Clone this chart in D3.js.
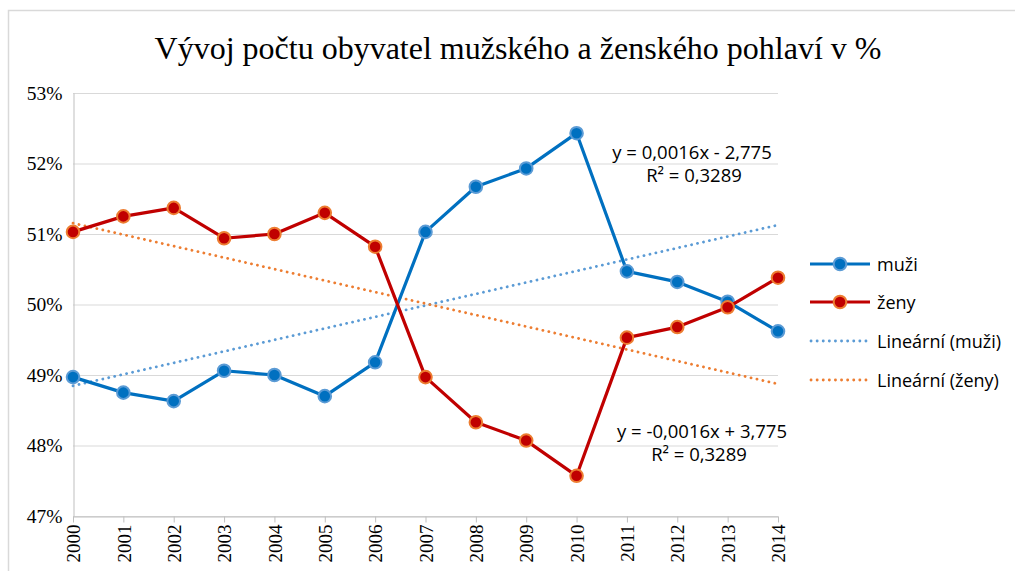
<!DOCTYPE html>
<html><head><meta charset="utf-8">
<script src="https://cdn.jsdelivr.net/npm/d3@7"></script>
<style>body{margin:0;background:#fff}svg{display:block}</style>
</head><body>
<svg id="c" width="1015" height="571"></svg>
<script>
const years = [2000,2001,2002,2003,2004,2005,2006,2007,2008,2009,2010,2011,2012,2013,2014];
const muzi = [48.97,48.75,48.63,49.06,49.00,48.70,49.18,51.03,51.67,51.93,52.43,50.47,50.32,50.04,49.62];
const zeny = [51.03,51.25,51.37,50.94,51.00,51.30,50.82,48.97,48.33,48.07,47.57,49.53,49.68,49.96,50.38];
const yTicks = [47,48,49,50,51,52,53];
const title = "Vývoj počtu obyvatel mužského a ženského pohlaví v %";
const legendLabels = ["muži","ženy","Lineární (muži)","Lineární (ženy)"];
const eqMuzi = ["y = 0,0016x - 2,775","R² = 0,3289"];
const eqZeny = ["y = -0,0016x + 3,775","R² = 0,3289"];

const svg = d3.select("#c");
svg.append("rect").attr("x",8.5).attr("y",10.5).attr("width",1020).attr("height",580)
  .attr("fill","#fff").attr("stroke","#d9d9d9").attr("stroke-width",1.5);

const x = d3.scaleLinear().domain([2000,2014]).range([73,778]);
const y = d3.scaleLinear().domain([47,53]).range([516,93]);

svg.append("text").attr("x",518).attr("y",59).attr("text-anchor","middle")
  .attr("font-family","Liberation Serif").attr("font-size",32).attr("fill","#000").text(title);

// grid
svg.append("g").selectAll("line").data(yTicks).join("line")
  .attr("x1",73).attr("x2",778).attr("y1",d=>y(d)+0.5).attr("y2",d=>y(d)+0.5)
  .attr("stroke","#d9d9d9").attr("stroke-width",1.2);

// y axis
const ya = svg.append("g").attr("transform","translate(73.5,0)")
  .call(d3.axisLeft(y).tickValues(yTicks).tickSize(0).tickPadding(11).tickFormat(d=>d+"%"));
ya.select(".domain").attr("stroke","#bfbfbf");
ya.selectAll("text").attr("font-family","Liberation Serif").attr("font-size",19.5).attr("fill","#000");

// x axis
const xa = svg.append("g").attr("transform","translate(0,516.5)")
  .call(d3.axisBottom(x).tickValues(years).tickSize(6).tickSizeOuter(0).tickFormat(d=>String(d)));
xa.select(".domain").attr("stroke","#bfbfbf");
xa.selectAll(".tick line").attr("stroke","#bfbfbf");
xa.selectAll("text").attr("font-family","Liberation Serif").attr("font-size",19).attr("fill","#000")
  .attr("transform","rotate(-90)").attr("text-anchor","end").attr("dy","0.35em").attr("x",-8).attr("y",0);

// trends
function fit(vals){
  const mx=d3.mean(years), my=d3.mean(vals);
  let sxy=0,sxx=0; years.forEach((t,i)=>{sxy+=(t-mx)*(vals[i]-my);sxx+=(t-mx)*(t-mx);});
  const b=sxy/sxx, a=my-b*mx; return t=>a+b*t;
}
const fm=fit(muzi), fz=fit(zeny);
const ends=[2000,2014];
const line = d3.line().x(d=>x(d[0])).y(d=>y(d[1]));
svg.append("path").attr("d",line(ends.map(t=>[t,fm(t)]))).attr("fill","none")
  .attr("stroke","#5B9BD5").attr("stroke-width",2.8).attr("stroke-dasharray","0.1,6").attr("stroke-linecap","round");
svg.append("path").attr("d",line(ends.map(t=>[t,fz(t)]))).attr("fill","none")
  .attr("stroke","#ED7D31").attr("stroke-width",2.8).attr("stroke-dasharray","0.1,6").attr("stroke-linecap","round");

function series(vals,lc,mf,ms){
  const pts=years.map((t,i)=>[t,vals[i]]);
  svg.append("path").attr("d",line(pts)).attr("fill","none").attr("stroke",lc).attr("stroke-width",3.2).attr("stroke-linejoin","round");
  svg.append("g").selectAll("circle").data(pts).join("circle")
    .attr("cx",d=>x(d[0])).attr("cy",d=>y(d[1])).attr("r",6.3).attr("fill",mf).attr("stroke",ms).attr("stroke-width",2);
}
series(muzi,"#0070C0","#0070C0","#5B9BD5");
series(zeny,"#C00000","#C00000","#ED7D31");

// equations
function eq(lines,cx1,cx2,y0){
  const g=svg.append("g").attr("font-family","Open Sans").attr("font-size",18.5).attr("fill","#000").attr("text-anchor","middle");
  g.append("text").attr("x",cx1).attr("y",y0).text(lines[0]);
  g.append("text").attr("x",cx2).attr("y",y0+23).text(lines[1]);
}
eq(eqMuzi,692,694,159);
eq(eqZeny,702,699,438);

// legend
const lg=svg.append("g");
const ly=[264,302,341,380];
legendLabels.forEach((lab,i)=>{
  const yy=ly[i];
  if(i<2){
    const c=i===0?"#0070C0":"#C00000", s=i===0?"#5B9BD5":"#ED7D31";
    lg.append("line").attr("x1",810).attr("x2",870).attr("y1",yy).attr("y2",yy).attr("stroke",c).attr("stroke-width",3.2);
    lg.append("circle").attr("cx",840).attr("cy",yy).attr("r",6.3).attr("fill",c).attr("stroke",s).attr("stroke-width",2);
  } else {
    const c=i===2?"#5B9BD5":"#ED7D31";
    lg.append("line").attr("x1",811).attr("x2",868).attr("y1",yy).attr("y2",yy).attr("stroke",c).attr("stroke-width",2.8)
      .attr("stroke-dasharray","0.1,6").attr("stroke-linecap","round");
  }
  lg.append("text").attr("x",877).attr("y",yy+6.5).attr("font-family","Open Sans").attr("font-size",18).attr("fill","#000").text(lab);
});
</script>
</body></html>
